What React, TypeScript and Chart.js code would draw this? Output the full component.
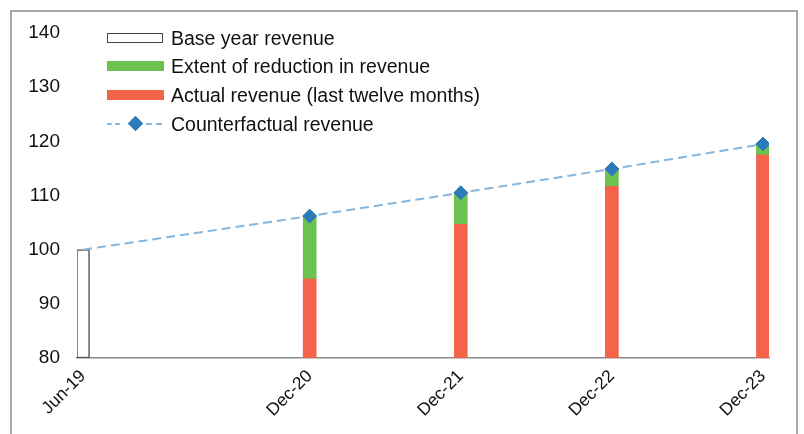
import React, { useEffect, useRef } from "react";
import { Chart, registerables } from "chart.js";

Chart.register(...registerables);

// months since Jun-19
const periodMonths = [0, 18, 30, 42, 54];
const periodLabels = ["Jun-19", "Dec-20", "Dec-21", "Dec-22", "Dec-23"];
const baseYearRevenue = [100];
const actualRevenue = [94.7, 104.8, 111.8, 117.6];
const counterfactualRevenue = [100, 106.2, 110.5, 114.9, 119.5];
const yTicks = [80, 90, 100, 110, 120, 130, 140];

const legendItems = [
  "Base year revenue",
  "Extent of reduction in revenue",
  "Actual revenue (last twelve months)",
  "Counterfactual revenue",
];

const GREEN = "#6cc24f";
const RED = "#f4634a";
const BLUE = "#2b7bba";
const LINE = "#86b6dc";
const FONT = "'Liberation Sans', Arial, sans-serif";

export default function App() {
  const ref = useRef<HTMLCanvasElement | null>(null);

  useEffect(() => {
    if (!ref.current) return;
    const decX = periodMonths.slice(1);
    const chart = new Chart(ref.current, {
      type: "bar",
      data: {
        datasets: [
          {
            type: "line",
            label: legendItems[3],
            data: periodMonths.map((m, i) => ({ x: m, y: counterfactualRevenue[i] })),
            borderColor: LINE,
            borderWidth: 2,
            borderDash: [9, 5],
            pointStyle: "rectRot",
            pointRadius: periodMonths.map((_, i) => (i === 0 ? 0 : 7)),
            pointBackgroundColor: BLUE,
            pointBorderColor: BLUE,
            pointBorderWidth: 1,
            order: 0,
          } as any,
          {
            label: legendItems[0],
            data: [{ x: periodMonths[0], y: [80, baseYearRevenue[0]] }],
            backgroundColor: "#ffffff",
            borderColor: "#555555",
            borderWidth: 1.5,
            borderSkipped: false,
            barThickness: 13,
            grouped: false,
            order: 2,
          } as any,
          {
            label: legendItems[1],
            data: decX.map((m, i) => ({ x: m, y: [actualRevenue[i], counterfactualRevenue[i + 1]] })),
            backgroundColor: GREEN,
            borderWidth: 0,
            barThickness: 13,
            grouped: false,
            order: 2,
          } as any,
          {
            label: legendItems[2],
            data: decX.map((m, i) => ({ x: m, y: [80, actualRevenue[i]] })),
            backgroundColor: RED,
            borderWidth: 0,
            barThickness: 13,
            grouped: false,
            order: 2,
          } as any,
        ],
      },
      options: {
        animation: false,
        responsive: false,
        maintainAspectRatio: false,
        layout: { padding: { left: 18, right: 35, top: 33, bottom: 0 } },
        plugins: { legend: { display: false }, tooltip: { enabled: false } },
        scales: {
          x: {
            type: "linear",
            offset: false,
            min: -0.48,
            max: 54.48,
            grid: { display: false, drawTicks: false, offset: false },
            border: { display: true, color: "#8a8a8a", width: 1.5 },
            afterBuildTicks: (scale: any) => {
              scale.ticks = periodMonths.map((v) => ({ value: v }));
            },
            afterFit: (scale: any) => {
              scale.height = 76;
            },
            ticks: {
              autoSkip: false,
              maxRotation: 45,
              minRotation: 45,
              padding: 8,
              color: "#111111",
              font: { family: FONT, size: 17.5 },
              callback: (v: any) => {
                const idx = periodMonths.indexOf(Number(v));
                return idx >= 0 ? periodLabels[idx] : "";
              },
            },
          },
          y: {
            min: 80,
            max: 140,
            grid: { display: false, drawTicks: false },
            border: { display: false },
            afterBuildTicks: (scale: any) => {
              scale.ticks = yTicks.map((v) => ({ value: v }));
            },
            afterFit: (scale: any) => {
              scale.width = 59;
            },
            ticks: {
              padding: 17,
              color: "#111111",
              font: { family: FONT, size: 19 },
            },
          },
        },
      },
    });
    return () => chart.destroy();
  }, []);

  const rowTop = [38, 66, 95, 124];
  const swatch = (i: number) => {
    if (i === 0)
      return (
        <div style={{ width: 54, height: 8, border: "1.5px solid #444", background: "#fff" }} />
      );
    if (i === 1) return <div style={{ width: 57, height: 10, background: GREEN }} />;
    if (i === 2) return <div style={{ width: 57, height: 10, background: RED }} />;
    return (
      <div style={{ position: "relative", width: 57, height: 16 }}>
        <div style={{ position: "absolute", left: 0, top: 7, width: 13, borderTop: `2px dashed ${LINE}` }} />
        <div style={{ position: "absolute", left: 39, top: 7, width: 16, borderTop: `2px dashed ${LINE}` }} />
        <div
          style={{
            position: "absolute",
            left: 23,
            top: 2,
            width: 11,
            height: 11,
            background: BLUE,
            transform: "rotate(45deg)",
          }}
        />
      </div>
    );
  };

  return (
    <div style={{ position: "absolute", left: 0, top: 0, width: 804, height: 434, background: "#fff", overflow: "hidden" }}>
      <canvas ref={ref} width={804} height={434} style={{ position: "absolute", left: 0, top: 0, width: 804, height: 434 }} />
      <div
        style={{
          position: "absolute",
          left: 10,
          top: 10,
          width: 788,
          height: 440,
          border: "2px solid #a8a8a8",
          boxSizing: "border-box",
          pointerEvents: "none",
        }}
      />
      {legendItems.map((t, i) => (
        <div
          key={t}
          style={{
            position: "absolute",
            left: 107,
            top: rowTop[i] - 12,
            height: 24,
            display: "flex",
            alignItems: "center",
            fontFamily: FONT,
            fontSize: 19.5,
            color: "#111",
            whiteSpace: "nowrap",
          }}
        >
          <div style={{ width: 64, display: "flex", alignItems: "center" }}>{swatch(i)}</div>
          <span>{t}</span>
        </div>
      ))}
    </div>
  );
}
